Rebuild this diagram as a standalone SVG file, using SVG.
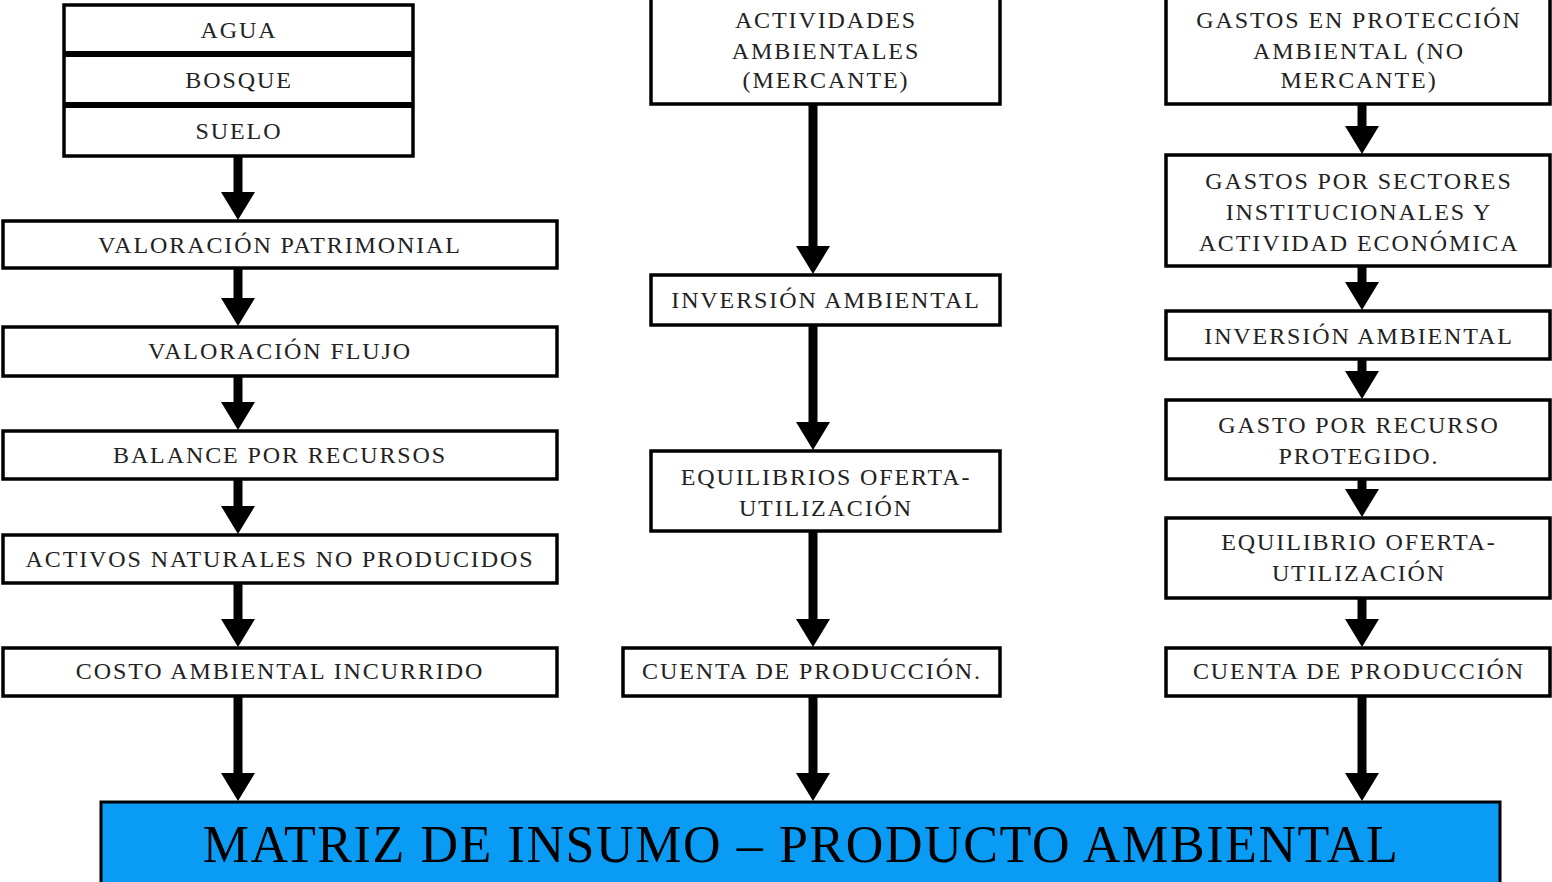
<svg xmlns="http://www.w3.org/2000/svg" width="1552" height="882" viewBox="0 0 1552 882">
<defs>
<style>
.b{fill:#fff;stroke:#000;stroke-width:3.5}
.t{font-family:"Liberation Serif","Times New Roman",serif;font-size:24px;letter-spacing:1.9px;fill:#222;text-anchor:middle}
.c{stroke:#000;stroke-width:9;fill:none}
</style>
<marker id="ah" markerUnits="userSpaceOnUse" markerWidth="30" markerHeight="36" viewBox="0 -18 30 36" refX="8" refY="0" orient="auto">
<path d="M0,-17 L28,0 L0,17 Z" fill="#000"/>
</marker>
</defs>
<rect width="1552" height="882" fill="#fff"/>
<g id="connectors">
<line class="c" x1="238" y1="157" x2="238" y2="200" marker-end="url(#ah)"/>
<line class="c" x1="238" y1="268" x2="238" y2="306" marker-end="url(#ah)"/>
<line class="c" x1="238" y1="376" x2="238" y2="410" marker-end="url(#ah)"/>
<line class="c" x1="238" y1="479" x2="238" y2="514" marker-end="url(#ah)"/>
<line class="c" x1="238" y1="583" x2="238" y2="627" marker-end="url(#ah)"/>
<line class="c" x1="238" y1="696" x2="238" y2="781" marker-end="url(#ah)"/>
<line class="c" x1="813" y1="104" x2="813" y2="254" marker-end="url(#ah)"/>
<line class="c" x1="813" y1="325" x2="813" y2="430" marker-end="url(#ah)"/>
<line class="c" x1="813" y1="531" x2="813" y2="627" marker-end="url(#ah)"/>
<line class="c" x1="813" y1="696" x2="813" y2="781" marker-end="url(#ah)"/>
<line class="c" x1="1362" y1="104" x2="1362" y2="134" marker-end="url(#ah)"/>
<line class="c" x1="1362" y1="258" x2="1362" y2="290" marker-end="url(#ah)"/>
<line class="c" x1="1362" y1="359" x2="1362" y2="379" marker-end="url(#ah)"/>
<line class="c" x1="1362" y1="479" x2="1362" y2="497" marker-end="url(#ah)"/>
<line class="c" x1="1362" y1="598" x2="1362" y2="627" marker-end="url(#ah)"/>
<line class="c" x1="1362" y1="696" x2="1362" y2="781" marker-end="url(#ah)"/>
</g>
<g id="recursos">
<rect class="b" x="64" y="5" width="349" height="151"/>
<line x1="64" y1="54" x2="413" y2="54" stroke="#000" stroke-width="6"/>
<line x1="64" y1="105" x2="413" y2="105" stroke="#000" stroke-width="6"/>
<text class="t" x="239" y="38">AGUA</text>
<text class="t" x="239" y="88">BOSQUE</text>
<text class="t" x="239" y="139">SUELO</text>
</g>
<g id="valoracion-patrimonial"><rect class="b" x="3" y="221" width="554" height="47"/><text class="t" x="280" y="253">VALORACIÓN PATRIMONIAL</text></g>
<g id="valoracion-flujo"><rect class="b" x="3" y="327" width="554" height="49"/><text class="t" x="280" y="359">VALORACIÓN FLUJO</text></g>
<g id="balance"><rect class="b" x="3" y="431" width="554" height="48"/><text class="t" x="280" y="463">BALANCE POR RECURSOS</text></g>
<g id="activos"><rect class="b" x="3" y="535" width="554" height="48"/><text class="t" x="280" y="567">ACTIVOS NATURALES NO PRODUCIDOS</text></g>
<g id="costo"><rect class="b" x="3" y="648" width="554" height="48"/><text class="t" x="280" y="679">COSTO AMBIENTAL INCURRIDO</text></g>
<g id="actividades"><rect class="b" x="651" y="-5" width="349" height="109"/>
<text class="t" x="826" y="28">ACTIVIDADES</text><text class="t" x="826" y="59">AMBIENTALES</text><text class="t" x="826" y="88">(MERCANTE)</text></g>
<g id="inversion-m"><rect class="b" x="651" y="275" width="349" height="50"/><text class="t" x="826" y="308">INVERSIÓN AMBIENTAL</text></g>
<g id="equilibrios-m"><rect class="b" x="651" y="451" width="349" height="80"/><text class="t" x="826" y="485">EQUILIBRIOS OFERTA-</text><text class="t" x="826" y="516">UTILIZACIÓN</text></g>
<g id="cuenta-m"><rect class="b" x="623" y="648" width="377" height="48"/><text class="t" x="812" y="679">CUENTA DE PRODUCCIÓN.</text></g>
<g id="gastos-proteccion"><rect class="b" x="1166" y="-5" width="384" height="109"/>
<text class="t" x="1359" y="28">GASTOS EN PROTECCIÓN</text><text class="t" x="1359" y="59">AMBIENTAL (NO</text><text class="t" x="1359" y="88">MERCANTE)</text></g>
<g id="gastos-sectores"><rect class="b" x="1166" y="155" width="384" height="111"/>
<text class="t" x="1359" y="189">GASTOS POR SECTORES</text><text class="t" x="1359" y="220">INSTITUCIONALES Y</text><text class="t" x="1359" y="251">ACTIVIDAD ECONÓMICA</text></g>
<g id="inversion-nm"><rect class="b" x="1166" y="311" width="384" height="48"/><text class="t" x="1359" y="344">INVERSIÓN AMBIENTAL</text></g>
<g id="gasto-recurso"><rect class="b" x="1166" y="400" width="384" height="79"/><text class="t" x="1359" y="433">GASTO POR RECURSO</text><text class="t" x="1359" y="464">PROTEGIDO.</text></g>
<g id="equilibrio-nm"><rect class="b" x="1166" y="518" width="384" height="80"/><text class="t" x="1359" y="550">EQUILIBRIO OFERTA-</text><text class="t" x="1359" y="581">UTILIZACIÓN</text></g>
<g id="cuenta-nm"><rect class="b" x="1166" y="648" width="384" height="48"/><text class="t" x="1359" y="679">CUENTA DE PRODUCCIÓN</text></g>
<g id="matriz"><rect x="101" y="802" width="1399" height="82" fill="#0A9CF5" stroke="#000" stroke-width="3"/>
<text x="801" y="862" font-family="'Liberation Serif','Times New Roman',serif" font-size="52" letter-spacing="1.6" text-anchor="middle" fill="#000">MATRIZ DE INSUMO – PRODUCTO AMBIENTAL</text></g>
</svg>
